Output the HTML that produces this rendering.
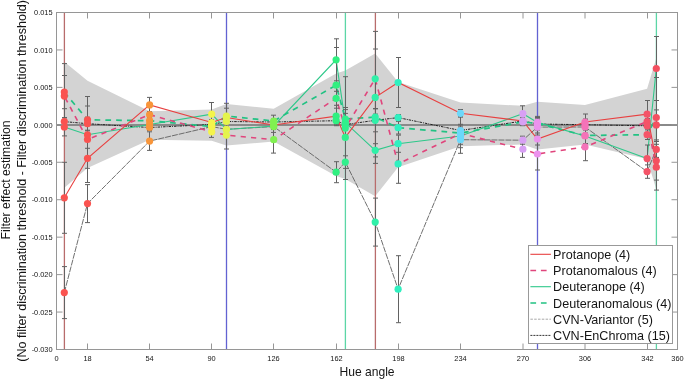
<!DOCTYPE html>
<html><head><meta charset="utf-8"><style>
html,body{margin:0;padding:0;background:#fff;width:685px;height:380px;overflow:hidden}
svg{display:block;will-change:transform;font-family:"Liberation Sans",sans-serif;fill:#151515}
text{fill:#151515}
</style></head><body>
<svg width="685" height="380" viewBox="0 0 685 380">
<polygon points="64.3,61.8 87.5,80.7 149.6,111.2 211.7,109.5 226.4,104.0 273.7,108.8 336.1,73.5 345.3,70.4 375.2,53.6 398.1,82.0 460.5,102.6 522.9,105.8 537.4,101.8 585.0,105.0 647.1,88.7 656.3,58.0 656.3,189.5 647.1,159.0 585.0,144.6 537.4,149.5 522.9,144.5 460.5,146.3 398.1,167.3 375.2,196.2 345.3,179.0 336.1,176.0 273.7,141.5 226.4,145.5 211.7,140.8 149.6,139.7 87.5,168.0 64.3,187.8" fill="#d3d3d3"/>
<line x1="64.4" y1="12.5" x2="64.4" y2="349.5" stroke="#b86c6c" stroke-width="1.3"/>
<line x1="375.4" y1="12.5" x2="375.4" y2="349.5" stroke="#b86c6c" stroke-width="1.3"/>
<line x1="226.5" y1="12.5" x2="226.5" y2="349.5" stroke="#6262d2" stroke-width="1.3"/>
<line x1="537.5" y1="12.5" x2="537.5" y2="349.5" stroke="#6262d2" stroke-width="1.3"/>
<line x1="345.4" y1="12.5" x2="345.4" y2="349.5" stroke="#5cd6a6" stroke-width="1.3"/>
<line x1="656.4" y1="12.5" x2="656.4" y2="349.5" stroke="#5cd6a6" stroke-width="1.3"/>
<line x1="56.5" y1="125" x2="677.5" y2="125" stroke="#8a8a8a" stroke-width="2"/>
<polyline points="64.3,292.6 87.5,203.6 149.6,141.1 211.7,126.6 226.4,129.3 273.7,126.6 336.1,172.2 345.3,162.1 375.2,222.1 398.1,289.2 460.5,139.7 522.9,140.2 537.4,127.1 585.0,127.0 647.1,171.6 656.3,149.4" fill="none" stroke="#606060" stroke-width="0.9" stroke-dasharray="6 1"/>
<polyline points="64.3,121.6 87.5,123.7 149.6,127.5 211.7,124.5 226.4,121.5 273.7,122.0 336.1,120.7 345.3,124.6 375.2,120.3 398.1,117.6 460.5,130.5 522.9,121.0 537.4,124.0 585.0,124.7 647.1,125.8 656.3,124.9" fill="none" stroke="#222" stroke-width="1" stroke-dasharray="2.5 1 1 1"/>
<polyline points="64.3,126.9 87.5,134.8 149.6,124.5 211.7,114.1 226.4,129.5 273.7,126.0 336.1,59.8 345.3,122.6 375.2,150.3 398.1,143.7 460.5,136.0 522.9,113.7 537.4,122.4 585.0,136.0 647.1,158.6 656.3,68.5" fill="none" stroke="#2ec88a" stroke-width="1.1"/>
<polyline points="64.3,92.1 87.5,119.8 149.6,120.7 211.7,126.6 226.4,116.0 273.7,121.0 336.1,85.2 345.3,119.0 375.2,117.1 398.1,127.7 460.5,133.0 522.9,122.0 537.4,123.5 585.0,135.5 647.1,134.7 656.3,117.5" fill="none" stroke="#22c283" stroke-width="1.7" stroke-dasharray="5.7 5.1"/>
<polyline points="64.3,96.1 87.5,139.5 149.6,114.7 211.7,131.8 226.4,135.1 273.7,139.7 336.1,98.3 345.3,128.1 375.2,78.8 398.1,163.9 460.5,133.5 522.9,149.2 537.4,154.0 585.0,146.9 647.1,121.6 656.3,167.2" fill="none" stroke="#e0457c" stroke-width="1.6" stroke-dasharray="5.2 5.2" stroke-dashoffset="-1.9"/>
<polyline points="64.3,197.8 87.5,158.3 149.6,104.9 211.7,122.5 226.4,117.5 273.7,125.0 336.1,116.2 345.3,137.4 375.2,97.4 398.1,82.5 460.5,113.3 522.9,121.0 537.4,139.0 585.0,122.0 647.1,114.2 656.3,160.8" fill="none" stroke="#e84040" stroke-width="1.1"/>
<path d="M64.5 162.3V233.3M62.0 162.3h5M62.0 233.3h5M87.5 148.3V168.3M85.0 148.3h5M85.0 168.3h5M149.5 97.4V112.4M147.0 97.4h5M147.0 112.4h5M211.5 119.5V125.5M209.0 119.5h5M209.0 125.5h5M226.5 108.2V126.8M224.0 108.2h5M224.0 126.8h5M273.5 122.0V128.0M271.0 122.0h5M271.0 128.0h5M336.5 108.2V124.2M334.0 108.2h5M334.0 124.2h5M345.5 113.4V161.4M343.0 113.4h5M343.0 161.4h5M375.5 31.4V163.4M373.0 31.4h5M373.0 163.4h5M398.5 57.5V107.5M396.0 57.5h5M396.0 107.5h5M460.5 109.5V117.1M458.0 109.5h5M458.0 117.1h5M522.5 118.0V124.0M520.0 118.0h5M520.0 124.0h5M537.5 133.0V145.0M535.0 133.0h5M535.0 145.0h5M585.5 114.0V130.0M583.0 114.0h5M583.0 130.0h5M647.5 100.5V127.9M645.0 100.5h5M645.0 127.9h5M656.5 141.5V180.1M654.0 141.5h5M654.0 180.1h5" fill="none" stroke="#626262" stroke-width="1"/>
<path d="M64.5 63.6V128.6M62.0 63.6h5M62.0 128.6h5M87.5 96.5V182.5M85.0 96.5h5M85.0 182.5h5M149.5 111.7V117.7M147.0 111.7h5M147.0 117.7h5M211.5 126.2V137.4M209.0 126.2h5M209.0 137.4h5M226.5 121.2V149.0M224.0 121.2h5M224.0 149.0h5M273.5 126.3V153.1M271.0 126.3h5M271.0 153.1h5M336.5 91.3V105.3M334.0 91.3h5M334.0 105.3h5M345.5 76.7V179.5M343.0 76.7h5M343.0 179.5h5M375.5 49.0V108.6M373.0 49.0h5M373.0 108.6h5M398.5 144.5V183.3M396.0 144.5h5M396.0 183.3h5M460.5 130.5V136.5M458.0 130.5h5M458.0 136.5h5M522.5 141.0V157.4M520.0 141.0h5M520.0 157.4h5M537.5 138.0V170.0M535.0 138.0h5M535.0 170.0h5M585.5 133.1V160.7M583.0 133.1h5M583.0 160.7h5M647.5 118.6V124.6M645.0 118.6h5M645.0 124.6h5M656.5 144.3V190.1M654.0 144.3h5M654.0 190.1h5" fill="none" stroke="#626262" stroke-width="1"/>
<path d="M64.5 117.9V135.9M62.0 117.9h5M62.0 135.9h5M87.5 130.8V138.8M85.0 130.8h5M85.0 138.8h5M149.5 121.5V127.5M147.0 121.5h5M147.0 127.5h5M211.5 102.5V125.7M209.0 102.5h5M209.0 125.7h5M226.5 123.5V135.5M224.0 123.5h5M224.0 135.5h5M273.5 119.6V132.4M271.0 119.6h5M271.0 132.4h5M336.5 38.8V80.8M334.0 38.8h5M334.0 80.8h5M345.5 109.6V135.6M343.0 109.6h5M343.0 135.6h5M375.5 143.7V156.9M373.0 143.7h5M373.0 156.9h5M398.5 135.1V152.3M396.0 135.1h5M396.0 152.3h5M460.5 124.3V147.7M458.0 124.3h5M458.0 147.7h5M522.5 105.8V121.6M520.0 105.8h5M520.0 121.6h5M537.5 116.4V128.4M535.0 116.4h5M535.0 128.4h5M585.5 128.0V144.0M583.0 128.0h5M583.0 144.0h5M647.5 145.0V172.2M645.0 145.0h5M645.0 172.2h5M656.5 36.5V100.5M654.0 36.5h5M654.0 100.5h5" fill="none" stroke="#626262" stroke-width="1"/>
<path d="M64.5 75.5V108.7M62.0 75.5h5M62.0 108.7h5M87.5 106.0V133.6M85.0 106.0h5M85.0 133.6h5M149.5 117.7V123.7M147.0 117.7h5M147.0 123.7h5M211.5 123.6V129.6M209.0 123.6h5M209.0 129.6h5M226.5 103.3V128.7M224.0 103.3h5M224.0 128.7h5M273.5 115.2V126.8M271.0 115.2h5M271.0 126.8h5M336.5 47.5V122.9M334.0 47.5h5M334.0 122.9h5M345.5 107.5V130.5M343.0 107.5h5M343.0 130.5h5M375.5 114.1V120.1M373.0 114.1h5M373.0 120.1h5M398.5 121.4V134.0M396.0 121.4h5M396.0 134.0h5M460.5 128.0V138.0M458.0 128.0h5M458.0 138.0h5M522.5 118.3V125.7M520.0 118.3h5M520.0 125.7h5M537.5 117.5V129.5M535.0 117.5h5M535.0 129.5h5M585.5 127.5V143.5M583.0 127.5h5M583.0 143.5h5M647.5 129.9V139.5M645.0 129.9h5M645.0 139.5h5M656.5 77.5V157.5M654.0 77.5h5M654.0 157.5h5" fill="none" stroke="#626262" stroke-width="1"/>
<path d="M64.5 266.6V318.6M62.0 266.6h5M62.0 318.6h5M87.5 184.6V222.6M85.0 184.6h5M85.0 222.6h5M149.5 131.8V150.4M147.0 131.8h5M147.0 150.4h5M211.5 123.6V129.6M209.0 123.6h5M209.0 129.6h5M226.5 123.3V135.3M224.0 123.3h5M224.0 135.3h5M273.5 123.6V129.6M271.0 123.6h5M271.0 129.6h5M336.5 161.7V182.7M334.0 161.7h5M334.0 182.7h5M345.5 155.8V168.4M343.0 155.8h5M343.0 168.4h5M375.5 198.1V246.1M373.0 198.1h5M373.0 246.1h5M398.5 255.7V322.7M396.0 255.7h5M396.0 322.7h5M460.5 126.1V153.3M458.0 126.1h5M458.0 153.3h5M522.5 136.2V144.2M520.0 136.2h5M520.0 144.2h5M537.5 119.1V135.1M535.0 119.1h5M535.0 135.1h5M585.5 119.0V135.0M583.0 119.0h5M583.0 135.0h5M647.5 164.9V178.3M645.0 164.9h5M645.0 178.3h5M656.5 141.4V157.4M654.0 141.4h5M654.0 157.4h5" fill="none" stroke="#626262" stroke-width="1"/>
<path d="M64.5 117.6V125.6M62.0 117.6h5M62.0 125.6h5M87.5 117.2V130.2M85.0 117.2h5M85.0 130.2h5M149.5 124.5V130.5M147.0 124.5h5M147.0 130.5h5M211.5 121.5V127.5M209.0 121.5h5M209.0 127.5h5M226.5 116.5V126.5M224.0 116.5h5M224.0 126.5h5M273.5 119.0V125.0M271.0 119.0h5M271.0 125.0h5M336.5 115.7V125.7M334.0 115.7h5M334.0 125.7h5M345.5 121.6V127.6M343.0 121.6h5M343.0 127.6h5M375.5 108.8V131.8M373.0 108.8h5M373.0 131.8h5M398.5 114.6V120.6M396.0 114.6h5M396.0 120.6h5M460.5 116.7V144.3M458.0 116.7h5M458.0 144.3h5M522.5 118.0V124.0M520.0 118.0h5M520.0 124.0h5M537.5 118.0V130.0M535.0 118.0h5M535.0 130.0h5M585.5 119.7V129.7M583.0 119.7h5M583.0 129.7h5M647.5 122.8V128.8M645.0 122.8h5M645.0 128.8h5M656.5 109.9V139.9M654.0 109.9h5M654.0 139.9h5" fill="none" stroke="#626262" stroke-width="1"/>
<circle cx="64.3" cy="197.8" r="3.6" fill="#fa5350"/>
<circle cx="87.5" cy="158.3" r="3.6" fill="#fa5350"/>
<circle cx="149.6" cy="104.9" r="3.6" fill="#f8953a"/>
<circle cx="211.7" cy="122.5" r="3.6" fill="#f4f44c"/>
<circle cx="226.4" cy="117.5" r="3.6" fill="#e4f44c"/>
<circle cx="273.7" cy="125.0" r="3.6" fill="#80f050"/>
<circle cx="336.1" cy="116.2" r="3.6" fill="#30f080"/>
<circle cx="345.3" cy="137.4" r="3.6" fill="#30f08c"/>
<circle cx="375.2" cy="97.4" r="3.6" fill="#30f0a8"/>
<circle cx="398.1" cy="82.5" r="3.6" fill="#30f0c0"/>
<circle cx="460.5" cy="113.3" r="3.6" fill="#6cd8fa"/>
<circle cx="522.9" cy="121.0" r="3.6" fill="#d8a0f4"/>
<circle cx="537.4" cy="139.0" r="3.6" fill="#ec92ee"/>
<circle cx="585.0" cy="122.0" r="3.6" fill="#f472b8"/>
<circle cx="647.1" cy="114.2" r="3.6" fill="#f45468"/>
<circle cx="656.3" cy="160.8" r="3.6" fill="#f45060"/>
<circle cx="64.3" cy="96.1" r="3.6" fill="#fa5350"/>
<circle cx="87.5" cy="139.5" r="3.6" fill="#fa5350"/>
<circle cx="149.6" cy="114.7" r="3.6" fill="#f8953a"/>
<circle cx="211.7" cy="131.8" r="3.6" fill="#f4f44c"/>
<circle cx="226.4" cy="135.1" r="3.6" fill="#e4f44c"/>
<circle cx="273.7" cy="139.7" r="3.6" fill="#80f050"/>
<circle cx="336.1" cy="98.3" r="3.6" fill="#30f080"/>
<circle cx="345.3" cy="128.1" r="3.6" fill="#30f08c"/>
<circle cx="375.2" cy="78.8" r="3.6" fill="#30f0a8"/>
<circle cx="398.1" cy="163.9" r="3.6" fill="#30f0c0"/>
<circle cx="460.5" cy="133.5" r="3.6" fill="#6cd8fa"/>
<circle cx="522.9" cy="149.2" r="3.6" fill="#d8a0f4"/>
<circle cx="537.4" cy="154.0" r="3.6" fill="#ec92ee"/>
<circle cx="585.0" cy="146.9" r="3.6" fill="#f472b8"/>
<circle cx="647.1" cy="121.6" r="3.6" fill="#f45468"/>
<circle cx="656.3" cy="167.2" r="3.6" fill="#f45060"/>
<circle cx="64.3" cy="126.9" r="3.6" fill="#fa5350"/>
<circle cx="87.5" cy="134.8" r="3.6" fill="#fa5350"/>
<circle cx="149.6" cy="124.5" r="3.6" fill="#f8953a"/>
<circle cx="211.7" cy="114.1" r="3.6" fill="#f4f44c"/>
<circle cx="226.4" cy="129.5" r="3.6" fill="#e4f44c"/>
<circle cx="273.7" cy="126.0" r="3.6" fill="#80f050"/>
<circle cx="336.1" cy="59.8" r="3.6" fill="#30f080"/>
<circle cx="345.3" cy="122.6" r="3.6" fill="#30f08c"/>
<circle cx="375.2" cy="150.3" r="3.6" fill="#30f0a8"/>
<circle cx="398.1" cy="143.7" r="3.6" fill="#30f0c0"/>
<circle cx="460.5" cy="136.0" r="3.6" fill="#6cd8fa"/>
<circle cx="522.9" cy="113.7" r="3.6" fill="#d8a0f4"/>
<circle cx="537.4" cy="122.4" r="3.6" fill="#ec92ee"/>
<circle cx="585.0" cy="136.0" r="3.6" fill="#f472b8"/>
<circle cx="647.1" cy="158.6" r="3.6" fill="#f45468"/>
<circle cx="656.3" cy="68.5" r="3.6" fill="#f45060"/>
<circle cx="64.3" cy="92.1" r="3.6" fill="#fa5350"/>
<circle cx="87.5" cy="119.8" r="3.6" fill="#fa5350"/>
<circle cx="149.6" cy="120.7" r="3.6" fill="#f8953a"/>
<circle cx="211.7" cy="126.6" r="3.6" fill="#f4f44c"/>
<circle cx="226.4" cy="116.0" r="3.6" fill="#e4f44c"/>
<circle cx="273.7" cy="121.0" r="3.6" fill="#80f050"/>
<circle cx="336.1" cy="85.2" r="3.6" fill="#30f080"/>
<circle cx="345.3" cy="119.0" r="3.6" fill="#30f08c"/>
<circle cx="375.2" cy="117.1" r="3.6" fill="#30f0a8"/>
<circle cx="398.1" cy="127.7" r="3.6" fill="#30f0c0"/>
<circle cx="460.5" cy="133.0" r="3.6" fill="#6cd8fa"/>
<circle cx="522.9" cy="122.0" r="3.6" fill="#d8a0f4"/>
<circle cx="537.4" cy="123.5" r="3.6" fill="#ec92ee"/>
<circle cx="585.0" cy="135.5" r="3.6" fill="#f472b8"/>
<circle cx="647.1" cy="134.7" r="3.6" fill="#f45468"/>
<circle cx="656.3" cy="117.5" r="3.6" fill="#f45060"/>
<circle cx="64.3" cy="292.6" r="3.6" fill="#fa5350"/>
<circle cx="87.5" cy="203.6" r="3.6" fill="#fa5350"/>
<circle cx="149.6" cy="141.1" r="3.6" fill="#f8953a"/>
<circle cx="211.7" cy="126.6" r="3.6" fill="#f4f44c"/>
<circle cx="226.4" cy="129.3" r="3.6" fill="#e4f44c"/>
<circle cx="273.7" cy="126.6" r="3.6" fill="#80f050"/>
<circle cx="336.1" cy="172.2" r="3.6" fill="#30f080"/>
<circle cx="345.3" cy="162.1" r="3.6" fill="#30f08c"/>
<circle cx="375.2" cy="222.1" r="3.6" fill="#30f0a8"/>
<circle cx="398.1" cy="289.2" r="3.6" fill="#30f0c0"/>
<circle cx="460.5" cy="139.7" r="3.6" fill="#6cd8fa"/>
<circle cx="522.9" cy="140.2" r="3.6" fill="#d8a0f4"/>
<circle cx="537.4" cy="127.1" r="3.6" fill="#ec92ee"/>
<circle cx="585.0" cy="127.0" r="3.6" fill="#f472b8"/>
<circle cx="647.1" cy="171.6" r="3.6" fill="#f45468"/>
<circle cx="656.3" cy="149.4" r="3.6" fill="#f45060"/>
<circle cx="64.3" cy="121.6" r="3.6" fill="#fa5350"/>
<circle cx="87.5" cy="123.7" r="3.6" fill="#fa5350"/>
<circle cx="149.6" cy="127.5" r="3.6" fill="#f8953a"/>
<circle cx="211.7" cy="124.5" r="3.6" fill="#f4f44c"/>
<circle cx="226.4" cy="121.5" r="3.6" fill="#e4f44c"/>
<circle cx="273.7" cy="122.0" r="3.6" fill="#80f050"/>
<circle cx="336.1" cy="120.7" r="3.6" fill="#30f080"/>
<circle cx="345.3" cy="124.6" r="3.6" fill="#30f08c"/>
<circle cx="375.2" cy="120.3" r="3.6" fill="#30f0a8"/>
<circle cx="398.1" cy="117.6" r="3.6" fill="#30f0c0"/>
<circle cx="460.5" cy="130.5" r="3.6" fill="#6cd8fa"/>
<circle cx="522.9" cy="121.0" r="3.6" fill="#d8a0f4"/>
<circle cx="537.4" cy="124.0" r="3.6" fill="#ec92ee"/>
<circle cx="585.0" cy="124.7" r="3.6" fill="#f472b8"/>
<circle cx="647.1" cy="125.8" r="3.6" fill="#f45468"/>
<circle cx="656.3" cy="124.9" r="3.6" fill="#f45060"/>
<rect x="56.5" y="12.5" width="621" height="337" fill="none" stroke="#969696" stroke-width="1"/>
<path d="M56.50 349.5v-6M56.50 12.5v6M87.50 349.5v-6M87.50 12.5v6M149.50 349.5v-6M149.50 12.5v6M211.50 349.5v-6M211.50 12.5v6M273.50 349.5v-6M273.50 12.5v6M336.50 349.5v-6M336.50 12.5v6M398.50 349.5v-6M398.50 12.5v6M460.50 349.5v-6M460.50 12.5v6M523.00 349.5v-6M523.00 12.5v6M585.00 349.5v-6M585.00 12.5v6M647.50 349.5v-6M647.50 12.5v6M677.50 349.5v-6M677.50 12.5v6M56.5 12.50h6M677.5 12.50h-6M56.5 49.94h6M677.5 49.94h-6M56.5 87.39h6M677.5 87.39h-6M56.5 124.83h6M677.5 124.83h-6M56.5 162.28h6M677.5 162.28h-6M56.5 199.72h6M677.5 199.72h-6M56.5 237.17h6M677.5 237.17h-6M56.5 274.61h6M677.5 274.61h-6M56.5 312.06h6M677.5 312.06h-6M56.5 349.50h6M677.5 349.50h-6" stroke="#969696" stroke-width="1" fill="none"/>
<text x="56.50" y="361" font-size="7.4" text-anchor="middle">0</text>
<text x="87.50" y="361" font-size="7.4" text-anchor="middle">18</text>
<text x="149.50" y="361" font-size="7.4" text-anchor="middle">54</text>
<text x="211.50" y="361" font-size="7.4" text-anchor="middle">90</text>
<text x="273.50" y="361" font-size="7.4" text-anchor="middle">126</text>
<text x="336.50" y="361" font-size="7.4" text-anchor="middle">162</text>
<text x="398.50" y="361" font-size="7.4" text-anchor="middle">198</text>
<text x="460.50" y="361" font-size="7.4" text-anchor="middle">234</text>
<text x="523.00" y="361" font-size="7.4" text-anchor="middle">270</text>
<text x="585.00" y="361" font-size="7.4" text-anchor="middle">306</text>
<text x="647.50" y="361" font-size="7.4" text-anchor="middle">342</text>
<text x="677.50" y="361" font-size="7.4" text-anchor="middle">360</text>
<text x="52.6" y="15.20" font-size="7.4" text-anchor="end">0.015</text>
<text x="52.6" y="52.64" font-size="7.4" text-anchor="end">0.010</text>
<text x="52.6" y="90.09" font-size="7.4" text-anchor="end">0.005</text>
<text x="52.6" y="127.53" font-size="7.4" text-anchor="end">0.000</text>
<text x="52.6" y="164.98" font-size="7.4" text-anchor="end">-0.005</text>
<text x="52.6" y="202.42" font-size="7.4" text-anchor="end">-0.010</text>
<text x="52.6" y="239.87" font-size="7.4" text-anchor="end">-0.015</text>
<text x="52.6" y="277.31" font-size="7.4" text-anchor="end">-0.020</text>
<text x="52.6" y="314.76" font-size="7.4" text-anchor="end">-0.025</text>
<text x="52.6" y="352.20" font-size="7.4" text-anchor="end">-0.030</text>
<text x="367" y="375.7" font-size="12.1" text-anchor="middle">Hue angle</text>
<text transform="translate(10,179.9) rotate(-90)" font-size="12.2" text-anchor="middle">Filter effect estimation</text>
<text transform="translate(26.1,180.9) rotate(-90)" font-size="12.57" text-anchor="middle">(No filter discrimination threshold - Filter discrimination threshold)</text>
<rect x="528.5" y="245.5" width="144" height="98" fill="#fff" stroke="#999" stroke-width="1"/>
<line x1="530.4" y1="254.3" x2="550.9" y2="254.3" stroke="#e84040" stroke-width="1.1"/>
<text x="553.1" y="258.9" font-size="12.6">Protanope (4)</text>
<line x1="530.4" y1="270.5" x2="550.9" y2="270.5" stroke="#e0457c" stroke-width="1.6" stroke-dasharray="5.7 4.8"/>
<text x="553.1" y="275.1" font-size="12.6">Protanomalous (4)</text>
<line x1="530.4" y1="286.7" x2="550.9" y2="286.7" stroke="#2ec88a" stroke-width="1.1"/>
<text x="553.1" y="291.3" font-size="12.6">Deuteranope (4)</text>
<line x1="530.4" y1="303.0" x2="550.9" y2="303.0" stroke="#22c283" stroke-width="1.7" stroke-dasharray="5.7 4.8"/>
<text x="553.1" y="307.6" font-size="12.6">Deuteranomalous (4)</text>
<line x1="530.4" y1="319.2" x2="550.9" y2="319.2" stroke="#a8a8a8" stroke-width="1" stroke-dasharray="2.5 1.3"/>
<text x="553.1" y="323.8" font-size="12.6">CVN-Variantor (5)</text>
<line x1="530.4" y1="335.4" x2="550.9" y2="335.4" stroke="#333" stroke-width="1" stroke-dasharray="2 1"/>
<text x="553.1" y="340.0" font-size="12.6">CVN-EnChroma (15)</text>
</svg>
</body></html>
